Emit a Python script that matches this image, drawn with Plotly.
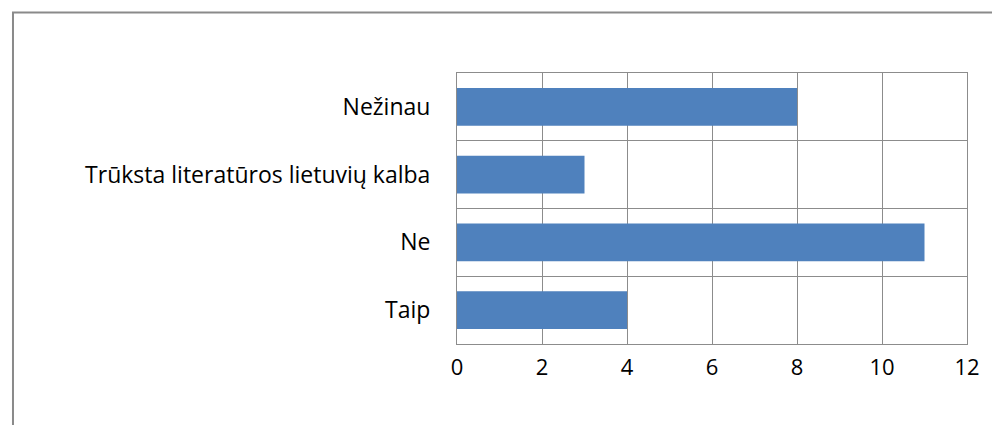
import plotly.graph_objects as go

categories = ["Taip", "Ne", "Trūksta literatūros lietuvių kalba", "Nežinau"]
values = [4, 11, 3, 8]
x_ticks = [0, 2, 4, 6, 8, 10, 12]

W, H = 992, 425
L, R, T, B = 457, 21, 73, 81
pw, ph = W - L - R, H - T - B

fig = go.Figure(go.Bar(
    y=categories, x=values, orientation="h",
    marker=dict(color="#4F81BD", line=dict(width=0)),
    hoverinfo="x+y",
))

def px_x(p):
    return (p - L) / pw

def px_y(p):
    return 1 - (p - T) / ph

fig.update_layout(
    width=W, height=H,
    margin=dict(l=L, r=R, t=T, b=B),
    paper_bgcolor="white", plot_bgcolor="white",
    bargap=0.44,
    showlegend=False,
    font=dict(family="Open Sans", size=22, color="black"),
    xaxis=dict(
        range=[0, 12], tickvals=x_ticks, showgrid=True, gridcolor="#8C8C8C", gridwidth=1,
        zeroline=False, showline=True, linecolor="#8C8C8C", linewidth=1, mirror=True,
        ticks="outside", ticklen=4, tickcolor="rgba(0,0,0,0)",
        tickfont=dict(size=22),
    ),
    yaxis=dict(
        type="category", categoryorder="array", categoryarray=categories,
        tickson="boundaries", showgrid=True, gridcolor="#8C8C8C", gridwidth=1,
        showline=True, linecolor="#8C8C8C", linewidth=1, mirror=True,
        ticks="", ticklabelstandoff=21,
        tickfont=dict(size=23),
    ),
    shapes=[dict(
        type="rect", xref="paper", yref="paper",
        x0=px_x(9.5), x1=px_x(1100), y0=px_y(12.5), y1=px_y(600),
        line=dict(color="#8A8A8A", width=2), fillcolor="rgba(0,0,0,0)", layer="below",
    )],
)

fig.write_html(
    "out.html",
    config=dict(displayModeBar=False),
    post_script="document.body.style.margin='0';document.body.style.overflow='hidden';",
)
